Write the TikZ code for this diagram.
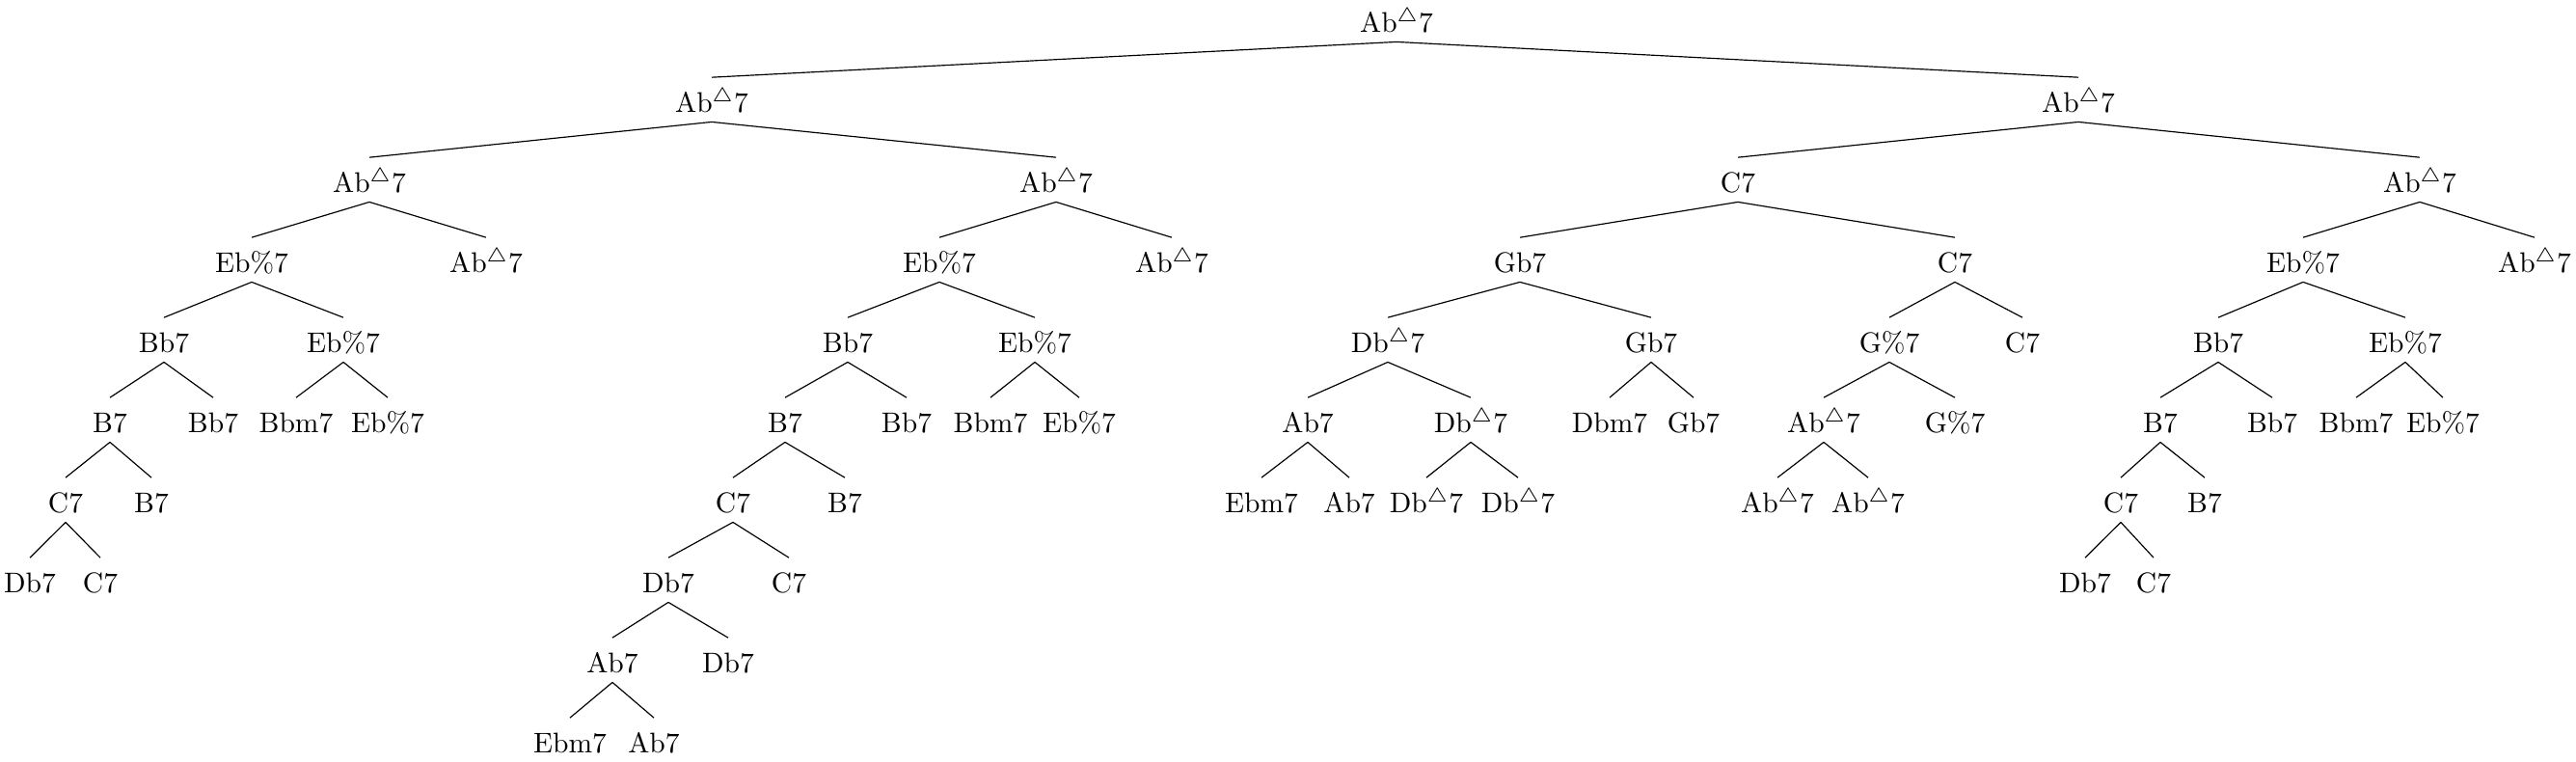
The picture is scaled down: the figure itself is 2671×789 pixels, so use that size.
\documentclass[tikz,border=0pt]{standalone}
\usepackage{tikz}

\newcommand{\chordmaj}{\ensuremath{^\triangle}}

\begin{document}
\begin{tikzpicture}[x=0.339pt,y=-0.339pt,
    chord/.style={anchor=base,inner sep=3.33pt,text height=2ex,text depth=0pt}]
  \useasboundingbox (0,0) rectangle (2671,789);
    % level 0
    \node [chord] (A0) at (1448,33) {Ab\chordmaj7};
    % level 1
    \node [chord] (B1) at (738,116) {Ab\chordmaj7};
    \node [chord] (B2) at (2155,116) {Ab\chordmaj7};
    % level 2
    \node [chord] (C1) at (383,199) {Ab\chordmaj7};
    \node [chord] (C2) at (1095,199) {Ab\chordmaj7};
    \node [chord] (C3) at (1802,199) {C7};
    \node [chord] (C4) at (2509,199) {Ab\chordmaj7};
    % level 3
    \node [chord] (D1) at (261,282) {Eb\%7};
    \node [chord] (D2) at (504,282) {Ab\chordmaj7};
    \node [chord] (D3) at (974,282) {Eb\%7};
    \node [chord] (D4) at (1215,282) {Ab\chordmaj7};
    \node [chord] (D5) at (1576,282) {Gb7};
    \node [chord] (D6) at (2027,282) {C7};
    \node [chord] (D7) at (2388,282) {Eb\%7};
    \node [chord] (D8) at (2628,282) {Ab\chordmaj7};
    % level 4
    \node [chord] (E1) at (170,365) {Bb7};
    \node [chord] (E2) at (356,365) {Eb\%7};
    \node [chord] (E3) at (879,365) {Bb7};
    \node [chord] (E4) at (1073,365) {Eb\%7};
    \node [chord] (E5) at (1439,365) {Db\chordmaj7};
    \node [chord] (E6) at (1712,365) {Gb7};
    \node [chord] (E7) at (1959,365) {G\%7};
    \node [chord] (E8) at (2097,365) {C7};
    \node [chord] (E9) at (2300,365) {Bb7};
    \node [chord] (E10) at (2494,365) {Eb\%7};
    % level 5
    \node [chord] (F1) at (114,448) {B7};
    \node [chord] (F2) at (221,448) {Bb7};
    \node [chord] (F3) at (307,448) {Bbm7};
    \node [chord] (F4) at (402,448) {Eb\%7};
    \node [chord] (F5) at (814,448) {B7};
    \node [chord] (F6) at (940,448) {Bb7};
    \node [chord] (F7) at (1027,448) {Bbm7};
    \node [chord] (F8) at (1119,448) {Eb\%7};
    \node [chord] (F9) at (1356,448) {Ab7};
    \node [chord] (F10) at (1525,448) {Db\chordmaj7};
    \node [chord] (F11) at (1669,448) {Dbm7};
    \node [chord] (F12) at (1756,448) {Gb7};
    \node [chord] (F13) at (1891,448) {Ab\chordmaj7};
    \node [chord] (F14) at (2027,448) {G\%7};
    \node [chord] (F15) at (2240,448) {B7};
    \node [chord] (F16) at (2356,448) {Bb7};
    \node [chord] (F17) at (2443,448) {Bbm7};
    \node [chord] (F18) at (2533,448) {Eb\%7};
    % level 6
    \node [chord] (G1) at (68,531) {C7};
    \node [chord] (G2) at (157,531) {B7};
    \node [chord] (G3) at (760,531) {C7};
    \node [chord] (G4) at (876,531) {B7};
    \node [chord] (G5) at (1308,531) {Ebm7};
    \node [chord] (G6) at (1399,531) {Ab7};
    \node [chord] (G7) at (1479,531) {Db\chordmaj7};
    \node [chord] (G8) at (1574,531) {Db\chordmaj7};
    \node [chord] (G9) at (1843,531) {Ab\chordmaj7};
    \node [chord] (G10) at (1937,531) {Ab\chordmaj7};
    \node [chord] (G11) at (2199,531) {C7};
    \node [chord] (G12) at (2286,531) {B7};
    % level 7
    \node [chord] (H1) at (31,614) {Db7};
    \node [chord] (H2) at (104,614) {C7};
    \node [chord] (H3) at (693,614) {Db7};
    \node [chord] (H4) at (818,614) {C7};
    \node [chord] (H5) at (2162,614) {Db7};
    \node [chord] (H6) at (2233,614) {C7};
    % level 8
    \node [chord] (I1) at (635,697) {Ab7};
    \node [chord] (I2) at (755,697) {Db7};
    % level 9
    \node [chord] (J1) at (591,780) {Ebm7};
    \node [chord] (J2) at (678,780) {Ab7};
      % edges
      \draw (A0.south) -- (B1.north);
      \draw (A0.south) -- (B2.north);
      \draw (B1.south) -- (C1.north);
      \draw (B1.south) -- (C2.north);
      \draw (B2.south) -- (C3.north);
      \draw (B2.south) -- (C4.north);
      \draw (C1.south) -- (D1.north);
      \draw (C1.south) -- (D2.north);
      \draw (C2.south) -- (D3.north);
      \draw (C2.south) -- (D4.north);
      \draw (C3.south) -- (D5.north);
      \draw (C3.south) -- (D6.north);
      \draw (C4.south) -- (D7.north);
      \draw (C4.south) -- (D8.north);
      \draw (D1.south) -- (E1.north);
      \draw (D1.south) -- (E2.north);
      \draw (D3.south) -- (E3.north);
      \draw (D3.south) -- (E4.north);
      \draw (D5.south) -- (E5.north);
      \draw (D5.south) -- (E6.north);
      \draw (D6.south) -- (E7.north);
      \draw (D6.south) -- (E8.north);
      \draw (D7.south) -- (E9.north);
      \draw (D7.south) -- (E10.north);
      \draw (E1.south) -- (F1.north);
      \draw (E1.south) -- (F2.north);
      \draw (E2.south) -- (F3.north);
      \draw (E2.south) -- (F4.north);
      \draw (E3.south) -- (F5.north);
      \draw (E3.south) -- (F6.north);
      \draw (E4.south) -- (F7.north);
      \draw (E4.south) -- (F8.north);
      \draw (E5.south) -- (F9.north);
      \draw (E5.south) -- (F10.north);
      \draw (E6.south) -- (F11.north);
      \draw (E6.south) -- (F12.north);
      \draw (E7.south) -- (F13.north);
      \draw (E7.south) -- (F14.north);
      \draw (E9.south) -- (F15.north);
      \draw (E9.south) -- (F16.north);
      \draw (E10.south) -- (F17.north);
      \draw (E10.south) -- (F18.north);
      \draw (F1.south) -- (G1.north);
      \draw (F1.south) -- (G2.north);
      \draw (F5.south) -- (G3.north);
      \draw (F5.south) -- (G4.north);
      \draw (F9.south) -- (G5.north);
      \draw (F9.south) -- (G6.north);
      \draw (F10.south) -- (G7.north);
      \draw (F10.south) -- (G8.north);
      \draw (F13.south) -- (G9.north);
      \draw (F13.south) -- (G10.north);
      \draw (F15.south) -- (G11.north);
      \draw (F15.south) -- (G12.north);
      \draw (G1.south) -- (H1.north);
      \draw (G1.south) -- (H2.north);
      \draw (G3.south) -- (H3.north);
      \draw (G3.south) -- (H4.north);
      \draw (G11.south) -- (H5.north);
      \draw (G11.south) -- (H6.north);
      \draw (H3.south) -- (I1.north);
      \draw (H3.south) -- (I2.north);
      \draw (I1.south) -- (J1.north);
      \draw (I1.south) -- (J2.north);
\end{tikzpicture}
\end{document}
